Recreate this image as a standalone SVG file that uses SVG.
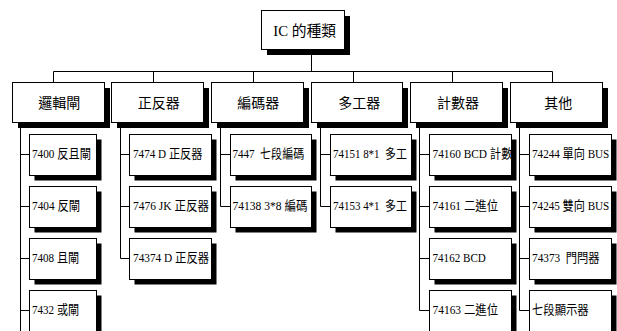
<svg xmlns="http://www.w3.org/2000/svg" width="617" height="331" viewBox="0 0 617 331">
<style>
.bg{fill:#fff}
.sh{fill:#000}
.bx{fill:#fff;stroke:#000;stroke-width:1}
.ln{fill:none;stroke:#000;stroke-width:1}
text{font-family:"Liberation Serif","Noto Sans CJK TC",serif;fill:#000}
.t0{font-size:15px;text-anchor:middle}
.t1{font-size:14px;text-anchor:middle}
.t2{font-size:13px}
</style>
<defs>
<clipPath id="c74160"><rect x="429.5" y="134.5" width="82" height="41"/></clipPath>
</defs>
<rect class="bg" x="0" y="0" width="617" height="331"/>

<g id="connectors">
<path class="ln" d="M311.5 49.5V71.5M53.5 71.5H552.5M53.5 71.5V82.5M153.5 71.5V82.5M253.5 71.5V82.5M353.5 71.5V82.5M452.5 71.5V82.5M552.5 71.5V82.5"/>
<path class="ln" d="M20.5 122.5V331M20.5 154.5H29.5M20.5 206.5H29.5M20.5 258.5H29.5M20.5 310.5H29.5"/>
<path class="ln" d="M120.5 122.5V258.5M120.5 154.5H129.5M120.5 206.5H129.5M120.5 258.5H129.5"/>
<path class="ln" d="M220.5 122.5V206.5M220.5 154.5H230.5M220.5 206.5H230.5"/>
<path class="ln" d="M320.5 122.5V206.5M320.5 154.5H330.5M320.5 206.5H330.5"/>
<path class="ln" d="M419.5 122.5V310.5M419.5 154.5H429.5M419.5 206.5H429.5M419.5 258.5H429.5M419.5 310.5H429.5"/>
<path class="ln" d="M519.5 122.5V310.5M519.5 154.5H529.5M519.5 206.5H529.5M519.5 258.5H529.5M519.5 310.5H529.5"/>
</g>

<g id="root">
<rect class="sh" x="267" y="16" width="83" height="39"/>
<rect class="bx" x="261.5" y="10.5" width="83" height="39"/>
<text class="t0" x="304.7" y="35.5" textLength="62.7" lengthAdjust="spacingAndGlyphs">IC 的種類</text>
</g>

<g id="n-logic">
<rect class="sh" x="18" y="88" width="92" height="40"/>
<rect class="bx" x="12.5" y="82.5" width="92" height="40"/>
<text class="t1" x="59.2" y="107.5">邏輯閘</text>
</g>
<g id="n-ff">
<rect class="sh" x="117" y="88" width="92" height="40"/>
<rect class="bx" x="111.5" y="82.5" width="92" height="40"/>
<text class="t1" x="158.7" y="107.5">正反器</text>
</g>
<g id="n-enc">
<rect class="sh" x="217" y="88" width="92" height="40"/>
<rect class="bx" x="211.5" y="82.5" width="92" height="40"/>
<text class="t1" x="258.3" y="107.5">編碼器</text>
</g>
<g id="n-mux">
<rect class="sh" x="317" y="88" width="91" height="40"/>
<rect class="bx" x="311.5" y="82.5" width="91" height="40"/>
<text class="t1" x="359.3" y="107.5">多工器</text>
</g>
<g id="n-cnt">
<rect class="sh" x="416" y="88" width="92" height="40"/>
<rect class="bx" x="410.5" y="82.5" width="92" height="40"/>
<text class="t1" x="458" y="107.5">計數器</text>
</g>
<g id="n-other">
<rect class="sh" x="516" y="88" width="92" height="40"/>
<rect class="bx" x="510.5" y="82.5" width="92" height="40"/>
<text class="t1" x="558.3" y="107.5">其他</text>
</g>

<!-- column 1 -->
<g id="n-7400">
<rect class="sh" x="34.5" y="139.5" width="67" height="41"/>
<rect class="bx" x="29.5" y="134.5" width="67" height="41"/>
<text class="t2" x="32" y="158" textLength="59" lengthAdjust="spacingAndGlyphs">7400 反且閘</text>
</g>
<g id="n-7404">
<rect class="sh" x="34.5" y="191.5" width="67" height="41"/>
<rect class="bx" x="29.5" y="186.5" width="67" height="41"/>
<text class="t2" x="32" y="210" textLength="48" lengthAdjust="spacingAndGlyphs">7404 反閘</text>
</g>
<g id="n-7408">
<rect class="sh" x="34.5" y="243.5" width="67" height="41"/>
<rect class="bx" x="29.5" y="238.5" width="67" height="41"/>
<text class="t2" x="32" y="262" textLength="47" lengthAdjust="spacingAndGlyphs">7408 且閘</text>
</g>
<g id="n-7432">
<rect class="sh" x="34.5" y="295.5" width="67" height="41"/>
<rect class="bx" x="29.5" y="290.5" width="67" height="41"/>
<text class="t2" x="32" y="314" textLength="47" lengthAdjust="spacingAndGlyphs">7432 或閘</text>
</g>

<!-- column 2 -->
<g id="n-7474">
<rect class="sh" x="134.5" y="139.5" width="82" height="41"/>
<rect class="bx" x="129.5" y="134.5" width="82" height="41"/>
<text class="t2" x="133" y="158" textLength="69.4" lengthAdjust="spacingAndGlyphs">7474 D 正反器</text>
</g>
<g id="n-7476">
<rect class="sh" x="134.5" y="191.5" width="82" height="41"/>
<rect class="bx" x="129.5" y="186.5" width="82" height="41"/>
<text class="t2" x="133" y="210" textLength="76" lengthAdjust="spacingAndGlyphs">7476 JK 正反器</text>
</g>
<g id="n-74374">
<rect class="sh" x="134.5" y="243.5" width="82" height="41"/>
<rect class="bx" x="129.5" y="238.5" width="82" height="41"/>
<text class="t2" x="133" y="262" textLength="76" lengthAdjust="spacingAndGlyphs">74374 D 正反器</text>
</g>

<!-- column 3 -->
<g id="n-7447">
<rect class="sh" x="235.5" y="139.5" width="81" height="41"/>
<rect class="bx" x="230.5" y="134.5" width="81" height="41"/>
<text class="t2" x="232.5" y="158" textLength="71.7" lengthAdjust="spacingAndGlyphs" xml:space="preserve">7447  七段編碼</text>
</g>
<g id="n-74138">
<rect class="sh" x="235.5" y="191.5" width="81" height="41"/>
<rect class="bx" x="230.5" y="186.5" width="81" height="41"/>
<text class="t2" x="232.5" y="210" textLength="75" lengthAdjust="spacingAndGlyphs">74138 3*8 編碼</text>
</g>

<!-- column 4 -->
<g id="n-74151">
<rect class="sh" x="335.5" y="139.5" width="81" height="41"/>
<rect class="bx" x="330.5" y="134.5" width="81" height="41"/>
<text class="t2" x="333" y="158" textLength="74" lengthAdjust="spacingAndGlyphs" xml:space="preserve">74151 8*1  多工</text>
</g>
<g id="n-74153">
<rect class="sh" x="335.5" y="191.5" width="81" height="41"/>
<rect class="bx" x="330.5" y="186.5" width="81" height="41"/>
<text class="t2" x="333" y="210" textLength="74" lengthAdjust="spacingAndGlyphs" xml:space="preserve">74153 4*1  多工</text>
</g>

<!-- column 5 -->
<g id="n-74160">
<rect class="sh" x="434.5" y="139.5" width="82" height="41"/>
<rect class="bx" x="429.5" y="134.5" width="82" height="41"/>
<text class="t2" x="432.5" y="158" textLength="80" lengthAdjust="spacingAndGlyphs" clip-path="url(#c74160)">74160 BCD 計數</text>
</g>
<g id="n-74161">
<rect class="sh" x="434.5" y="191.5" width="82" height="41"/>
<rect class="bx" x="429.5" y="186.5" width="82" height="41"/>
<text class="t2" x="432.5" y="210" textLength="65.7" lengthAdjust="spacingAndGlyphs">74161 二進位</text>
</g>
<g id="n-74162">
<rect class="sh" x="434.5" y="243.5" width="82" height="41"/>
<rect class="bx" x="429.5" y="238.5" width="82" height="41"/>
<text class="t2" x="432.5" y="262" textLength="53.3" lengthAdjust="spacingAndGlyphs">74162 BCD</text>
</g>
<g id="n-74163">
<rect class="sh" x="434.5" y="295.5" width="82" height="41"/>
<rect class="bx" x="429.5" y="290.5" width="82" height="41"/>
<text class="t2" x="432.5" y="314" textLength="65.7" lengthAdjust="spacingAndGlyphs">74163 二進位</text>
</g>

<!-- column 6 -->
<g id="n-74244">
<rect class="sh" x="534.5" y="139.5" width="82" height="41"/>
<rect class="bx" x="529.5" y="134.5" width="82" height="41"/>
<text class="t2" x="532" y="158" textLength="77.3" lengthAdjust="spacingAndGlyphs">74244 單向 BUS</text>
</g>
<g id="n-74245">
<rect class="sh" x="534.5" y="191.5" width="82" height="41"/>
<rect class="bx" x="529.5" y="186.5" width="82" height="41"/>
<text class="t2" x="532" y="210" textLength="77.3" lengthAdjust="spacingAndGlyphs">74245 雙向 BUS</text>
</g>
<g id="n-74373">
<rect class="sh" x="534.5" y="243.5" width="82" height="41"/>
<rect class="bx" x="529.5" y="238.5" width="82" height="41"/>
<text class="t2" x="532" y="262" textLength="67.6" lengthAdjust="spacingAndGlyphs" xml:space="preserve">74373  門閂器</text>
</g>
<g id="n-7seg">
<rect class="sh" x="534.5" y="295.5" width="82" height="41"/>
<rect class="bx" x="529.5" y="290.5" width="82" height="41"/>
<text class="t2" x="532" y="314" textLength="56.7" lengthAdjust="spacingAndGlyphs">七段顯示器</text>
</g>
</svg>
